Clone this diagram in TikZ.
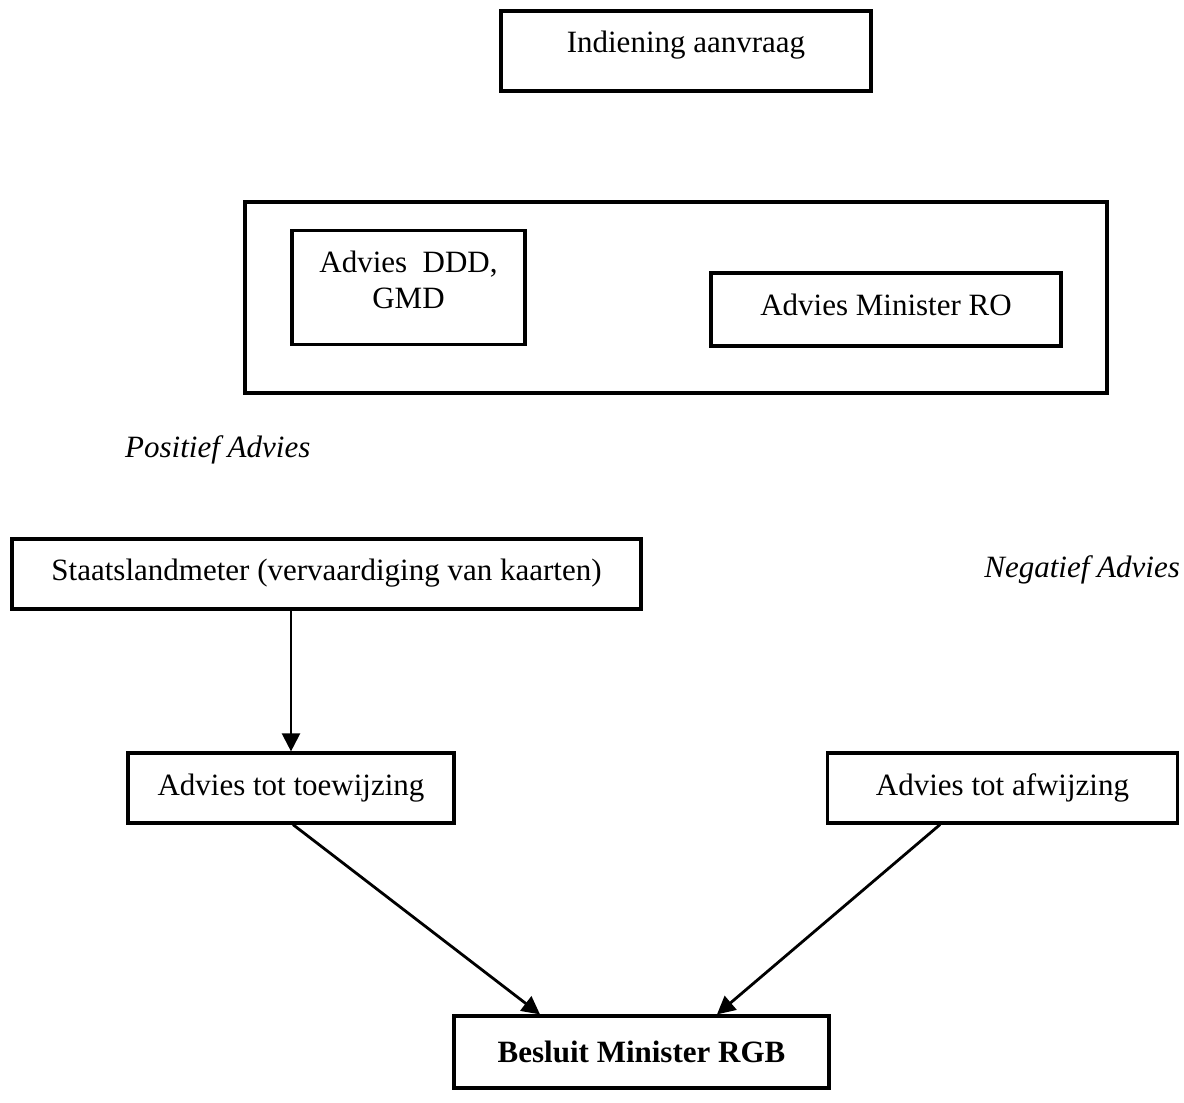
\documentclass[tikz,border=0pt]{standalone}
\usepackage{fontspec}
\setmainfont{Liberation Serif}
\usetikzlibrary{arrows.meta}
\tikzset{
  box/.style={draw=black, line width=3.2pt, rectangle, inner sep=0pt, align=center,
    font=\fontsize{31}{36}\selectfont, text height=22pt},
  arr/.style={draw=black, line width=2.8pt, -{Triangle[length=18pt,width=18pt]}},
  lbl/.style={inner sep=0pt, font=\fontsize{31}{36}\selectfont\itshape},
}
\begin{document}
\begin{tikzpicture}[x=1pt,y=-1pt]
\useasboundingbox (0,0) rectangle (1184,1103);
% boxes (centre, width, height)
\node[box, minimum width=370pt, minimum height=80pt, text depth=20pt] (ind) at (686,51) {Indiening aanvraag};
\node[box, minimum width=862pt, minimum height=191pt] (grp) at (676,297.5) {};
\node[box, minimum width=233pt, minimum height=114pt, text height=58pt, text depth=17pt] (ddd) at (408.5,287.5) {Advies\ \ DDD,\\GMD};
\node[box, minimum width=350pt, minimum height=73pt, text depth=11pt] (ro) at (886,309.5) {Advies Minister RO};
\node[lbl, anchor=base west] (pos) at (125,457) {Positief Advies};
\node[lbl, anchor=base east] (neg) at (1180,577) {Negatief Advies};
\node[box, minimum width=629pt, minimum height=70pt, text depth=9pt] (staat) at (326.5,574) {Staatslandmeter (vervaardiging van kaarten)};
\node[box, minimum width=326pt, minimum height=70pt, text depth=8pt] (toew) at (291,788) {Advies tot toewijzing};
\node[box, minimum width=350pt, minimum height=70pt, text depth=8pt] (afw) at (1002.5,788) {Advies tot afwijzing};
\node[box, minimum width=375pt, minimum height=72pt, text depth=2pt, font=\fontsize{31}{36}\selectfont\bfseries] (bes) at (641.5,1052) {Besluit Minister RGB};
% connectors
\draw[arr, line width=2.3pt] (staat.south -| toew.north) -- (toew.north);
\draw[arr] ([xshift=2pt]toew.south) -- ([xshift=-101.5pt]bes.north);
\draw[arr] ([xshift=-62.5pt]afw.south) -- ([xshift=75.5pt]bes.north);
\end{tikzpicture}
\end{document}
